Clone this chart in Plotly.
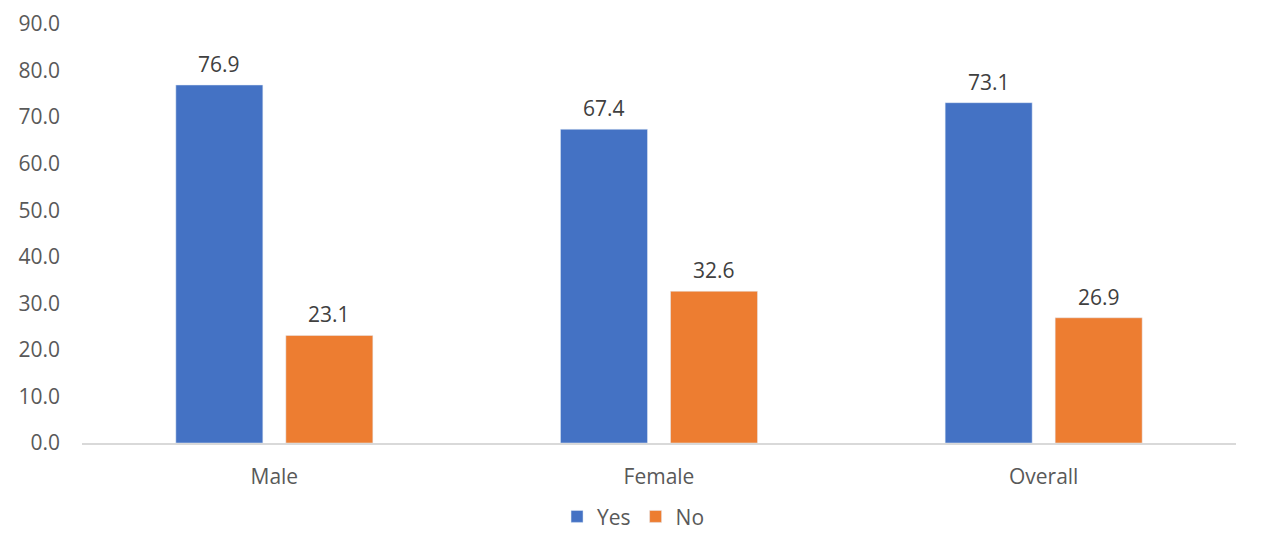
import plotly.graph_objects as go

categories = ["Male", "Female", "Overall"]
yes_values = [76.9, 67.4, 73.1]
no_values = [23.1, 32.6, 26.9]
y_ticks = [0, 10, 20, 30, 40, 50, 60, 70, 80, 90]

FONT = "Open Sans"
GREY = "#595959"
LABEL = "#404040"

fig = go.Figure()
fig.add_trace(go.Bar(name="Yes", x=categories, y=yes_values, marker_color="#4472C4"))
fig.add_trace(go.Bar(name="No", x=categories, y=no_values, marker_color="#ED7D31"))

# data labels above bars (offset to each bar within the group)
for vals, shift in ((yes_values, -55), (no_values, 55)):
    for c, v in zip(categories, vals):
        fig.add_annotation(x=c, y=v, text=f"{v:.1f}", showarrow=False,
                           xref="x", yref="y", xshift=shift, yshift=5,
                           yanchor="bottom", font=dict(family=FONT, size=21, color=LABEL))

fig.update_layout(
    width=1265, height=540,
    margin=dict(l=82, r=29, t=24, b=97, autoexpand=False),
    paper_bgcolor="white", plot_bgcolor="white",
    barmode="group", bargap=0.428, bargroupgap=0.209,
    font=dict(family=FONT, size=21, color=GREY),
    legend=dict(orientation="h", x=0.4775, xanchor="center", y=-0.176, yanchor="middle",
                font=dict(family=FONT, size=21, color=GREY), traceorder="normal"),
    xaxis=dict(showline=True, linecolor="#D9D9D9", linewidth=1.5, showgrid=False,
               ticks="", ticklabelstandoff=14, tickfont=dict(family=FONT, size=21, color=GREY)),
    yaxis=dict(range=[0, 90], tickvals=y_ticks, ticktext=[f"{v:.1f}" for v in y_ticks],
               showgrid=False, zeroline=False, showline=False, ticks="",
               ticklabelstandoff=21, tickfont=dict(family=FONT, size=21, color=GREY)),
)

fig.write_html("out.html")
